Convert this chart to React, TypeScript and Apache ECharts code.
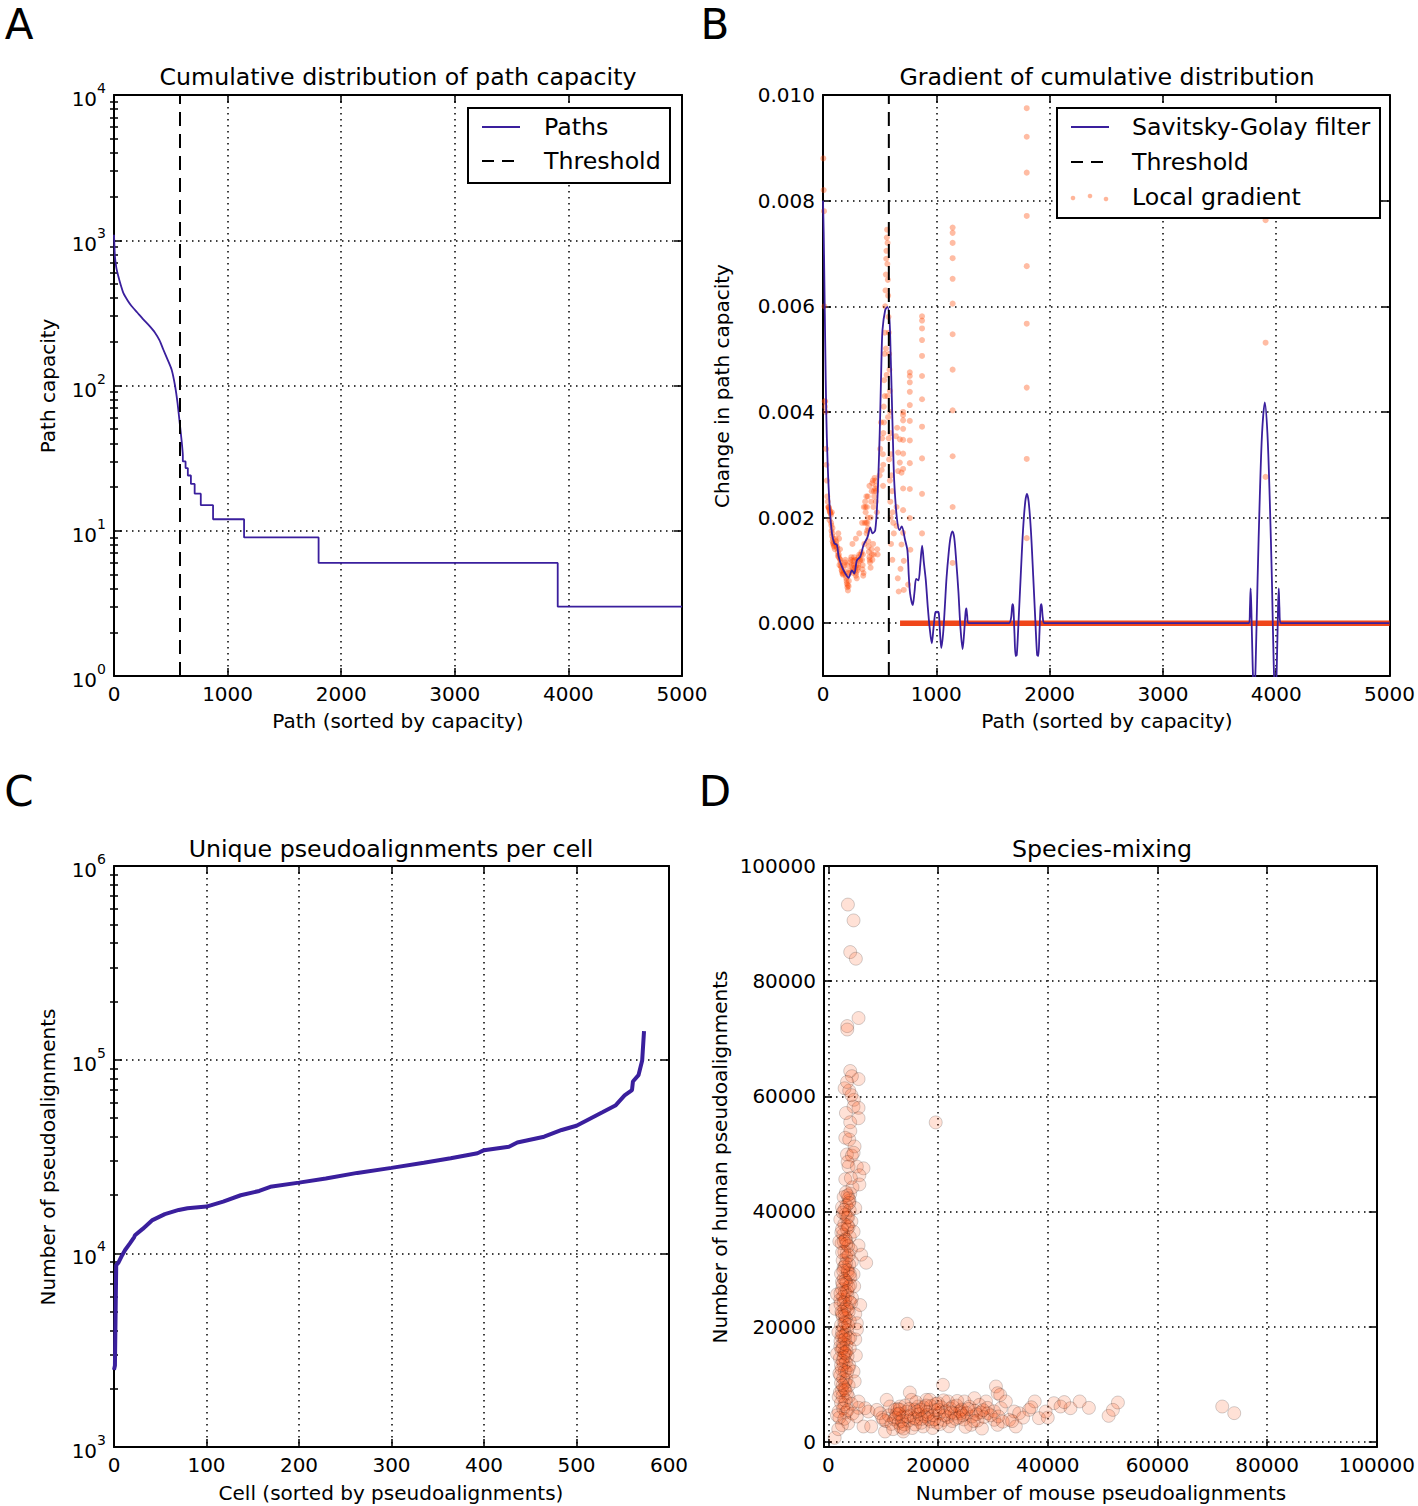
import React, { useEffect, useRef } from "react";
import * as echarts from "echarts";

const FONT = "DejaVu Sans";
const PURPLE = "#3a1f9d";
const THRESHOLD = 581;

// ---------- Panel A: cumulative distribution of path capacity ----------
const pathRank = [0, 4, 8, 20, 38, 60, 82, 120, 156, 205, 258, 310, 361, 400, 434, 470, 507, 537, 560, 581, 592, 600, 606, 606, 630, 630, 650, 650, 677, 677, 710, 710, 764, 764, 872, 872, 1145, 1145, 1801, 1801, 3906, 3906, 5000];
const pathCapacity = [1090, 900, 776, 650, 565, 490, 434, 385, 351, 318, 285, 258, 231, 205, 177, 152, 129, 100, 75, 53, 44, 38, 33, 30, 30, 27, 27, 24, 24, 21, 21, 18, 18, 15, 15, 12, 12, 9, 9, 6, 6, 3, 3];
const pathXTicks = [0, 1000, 2000, 3000, 4000, 5000];
const pathYTicks = [1, 10, 100, 1000, 10000];

// ---------- Panel B: gradient of cumulative distribution ----------
const sgRank = [0, 6, 12, 20, 29, 41, 59, 79, 100, 123, 138, 167, 197, 226, 255, 276, 299, 329, 358, 393, 417, 437, 461, 481, 495, 505, 515, 525, 549, 569, 587, 597, 607, 618, 628, 651, 675, 695, 725, 745, 757, 769, 792, 808, 822, 842, 858, 875, 890, 907, 925, 942, 960, 975, 990, 1000, 1006, 1012, 1022, 1032, 1044, 1060, 1075, 1090, 1110, 1125, 1142, 1158, 1175, 1195, 1212, 1232, 1245, 1258, 1265, 1272, 1285, 1640, 1660, 1672, 1680, 1690, 1700, 1710, 1725, 1745, 1765, 1785, 1800, 1815, 1835, 1855, 1875, 1890, 1900, 1910, 1920, 1928, 1940, 1955, 3760, 3768, 3774, 3780, 3792, 3805, 3818, 3835, 3855, 3875, 3899, 3922, 3942, 3962, 3978, 3992, 4005, 4016, 4022, 4028, 4038, 5000];
const sgValue = [0.008, 0.0074, 0.0065, 0.00523, 0.00397, 0.00302, 0.0022, 0.0017, 0.00151, 0.00148, 0.00126, 0.00107, 0.00094, 0.00086, 0.001, 0.00094, 0.00119, 0.00126, 0.00148, 0.00163, 0.00181, 0.0017, 0.00176, 0.00239, 0.0032, 0.00397, 0.0049, 0.00555, 0.00593, 0.00599, 0.00574, 0.0051, 0.00429, 0.0034, 0.00271, 0.00201, 0.00176, 0.00183, 0.00157, 0.00138, 0.0009, 0.00056, 0.00034, 0.0006, 0.00084, 0.00081, 0.0011, 0.00147, 0.00115, 0.00082, 0.0003, -0.0001, -0.00038, -0.0001, 0.00019, 0.00022, 0.0002, 0.00022, 0.00019, -0.00015, -0.00047, -0.0002, 0.0003, 0.00085, 0.00135, 0.00162, 0.00174, 0.00162, 0.0012, 0.0006, -0.00005, -0.00049, -0.0002, 0.0002, 0.00028, 0.00015, 0, 0, 0.0001, 0.00036, 0.0003, -0.0002, -0.00062, -0.0006, 0, 0.0009, 0.00175, 0.0023, 0.00245, 0.0023, 0.00175, 0.0009, 0, -0.0006, -0.00062, -0.0002, 0.0003, 0.00036, 0.0001, 0, 0, 0.0003, 0.00066, 0.0003, -0.0008, -0.0015, -0.0008, 0.0008, 0.0024, 0.0036, 0.00418, 0.0036, 0.0024, 0.0008, -0.0008, -0.0015, -0.0008, 0.0003, 0.00066, 0.0003, 0, 0];
const zeroGradientRange = [680, 5000];
const localGradient = [
  [3, 0.0088], [6, 0.0082], [9, 0.0078], [12, 0.006], [14, 0.0042], [17, 0.0041], [20, 0.0042], [23, 0.004], [27, 0.0033], [30, 0.003], [34, 0.0027], [38, 0.0024], [42, 0.0023], [46, 0.0022],
  [50, 0.0022], [55, 0.00215], [62, 0.0021], [70, 0.00205], [58, 0.00195], [75, 0.00175], [80, 0.00165], [85, 0.00155], [90, 0.0015], [96, 0.00145], [105, 0.0014], [110, 0.0016], [118, 0.0015], [125, 0.00142], [130, 0.00135], [140, 0.0013], [148, 0.00122], [155, 0.00115], [162, 0.00105], [168, 0.00098], [175, 0.00092], [182, 0.00095], [190, 0.0011], [198, 0.0012], [205, 0.00085], [210, 0.00075], [215, 0.00068], [220, 0.00062], [228, 0.0008], [235, 0.001], [242, 0.00115], [250, 0.00125], [258, 0.00105], [265, 0.00095], [272, 0.0011], [280, 0.0012], [290, 0.0009], [298, 0.00085], [305, 0.001], [312, 0.0011], [320, 0.0013], [330, 0.0012], [340, 0.00135], [350, 0.0011], [358, 0.00095], [365, 0.0015], [372, 0.0023], [376, 0.0021], [380, 0.0019], [385, 0.0017], [390, 0.00175], [395, 0.002], [400, 0.00155], [405, 0.00135], [410, 0.00125], [415, 0.00115], [420, 0.00105], [425, 0.0023], [430, 0.0025], [435, 0.00265], [440, 0.0027], [445, 0.0022], [450, 0.0025], [455, 0.00275], [460, 0.00255], [465, 0.0023], [470, 0.0026], [475, 0.0021], [478, 0.0014], [482, 0.0013],
  [260, 0.0015], [290, 0.0016], [320, 0.0017], [345, 0.0019], [360, 0.0022], [395, 0.0024], [410, 0.0026], [420, 0.002],
  [72, 0.0019], [78, 0.0021], [84, 0.0018], [88, 0.0016], [135, 0.0017], [142, 0.0016], [150, 0.0014], [145, 0.0011], [200, 0.0009], [212, 0.0011], [222, 0.00095], [226, 0.0007], [275, 0.00125], [285, 0.001], [295, 0.0011], [300, 0.0012], [345, 0.0012], [352, 0.0013], [355, 0.0009], [383, 0.0024], [388, 0.0022], [398, 0.0018], [428, 0.0014], [436, 0.0012], [442, 0.0015], [448, 0.0013],
  [52, 0.00218], [60, 0.00212], [66, 0.00208], [74, 0.00185], [82, 0.0017], [92, 0.00152], [100, 0.00147], [115, 0.00155], [122, 0.00145], [132, 0.00128], [138, 0.00125], [152, 0.0012], [158, 0.00108], [165, 0.001], [172, 0.00094], [186, 0.001], [194, 0.00115], [208, 0.0008], [218, 0.00072], [232, 0.00095], [246, 0.0012], [254, 0.0011], [262, 0.001], [268, 0.00118], [282, 0.00105], [292, 0.00095], [308, 0.00105], [316, 0.00125], [325, 0.00118], [335, 0.0013], [348, 0.00102], [368, 0.0019], [374, 0.0022], [392, 0.0019], [402, 0.00145], [412, 0.0012], [432, 0.0013], [452, 0.0024], [462, 0.0027], [468, 0.0025],
  [500, 0.0028], [505, 0.0033], [512, 0.0038], [518, 0.0029], [522, 0.0035],
  [528, 0.0032], [530, 0.0026], [533, 0.0036], [536, 0.0041], [540, 0.0046], [543, 0.0051], [546, 0.0055], [549, 0.006], [552, 0.0063], [555, 0.0066], [558, 0.0069], [560, 0.00705], [563, 0.0073], [566, 0.00745], [570, 0.0072], [568, 0.0068], [572, 0.0065], [575, 0.0062], [578, 0.0058], [581, 0.0055], [584, 0.0051], [587, 0.0048], [590, 0.0044], [593, 0.004], [596, 0.0036], [600, 0.0032], [604, 0.0028], [610, 0.0025], [615, 0.0021], [620, 0.0019], [625, 0.0017], [556, 0.0052], [562, 0.0047], [568, 0.0043], [574, 0.0039], [580, 0.0035], [584, 0.0031], [590, 0.0027], [594, 0.0023], [598, 0.002], [545, 0.0043], [538, 0.0038], [532, 0.003], [600, 0.0015], [612, 0.0012],
  [643, 0.00354], [654, 0.0037], [663, 0.00323], [663, 0.00288], [678, 0.00348], [678, 0.00304], [693, 0.00285], [649, 0.0022], [649, 0.00184], [693, 0.00149], [713, 0.00118], [684, 0.00103], [713, 0.00063], [751, 0.00073], [771, 0.00139], [707, 0.00171], [660, 0.00085], [668, 0.0006],
  [707, 0.004], [707, 0.00394], [707, 0.00384], [707, 0.00368], [707, 0.00347], [707, 0.00321], [707, 0.00292], [707, 0.00255], [707, 0.00214],
  [766, 0.00475], [766, 0.00468], [766, 0.00456], [766, 0.00438], [766, 0.00413], [766, 0.00383], [766, 0.00346], [766, 0.00303], [766, 0.00254], [766, 0.00199],
  [874, 0.00581], [874, 0.00573], [874, 0.00558], [874, 0.00536], [874, 0.00506], [874, 0.00468], [874, 0.00424], [874, 0.00372], [874, 0.00312], [874, 0.00245], [874, 0.0017],
  [1144, 0.00749], [1144, 0.00739], [1144, 0.0072], [1144, 0.00691], [1144, 0.00652], [1144, 0.00605], [1144, 0.00547], [1144, 0.0048], [1144, 0.00403], [1144, 0.00316], [1144, 0.0022], [1144, 0.00114],
  [1798, 0.00975], [1798, 0.00921], [1798, 0.00853], [1798, 0.00771], [1798, 0.00676], [1798, 0.00567], [1798, 0.00446], [1798, 0.00311], [1798, 0.00161],
  [3906, 0.00763], [3906, 0.00531], [3906, 0.00277],
];
const gradXTicks = [0, 1000, 2000, 3000, 4000, 5000];
const gradYTicks = [0, 0.002, 0.004, 0.006, 0.008, 0.01];

// ---------- Panel C: unique pseudoalignments per cell ----------
const cellRank = [0, 1, 2.4, 4.8, 8.2, 12, 17, 21.7, 22.7, 31, 41, 55, 70, 79.5, 100, 118, 137, 157, 169, 200, 229, 263, 300, 335, 364, 393, 400, 427, 436, 465, 484, 500, 513, 528, 542, 552, 560, 561, 567, 571, 573];
const cellPseudo = [2500, 2630, 8700, 8960, 9660, 10400, 11220, 12100, 12400, 13370, 14790, 15930, 16750, 17100, 17430, 18500, 19950, 20990, 22050, 23180, 24370, 26020, 27620, 29330, 30980, 32890, 34100, 35480, 37320, 40010, 43350, 45600, 49130, 53500, 57950, 65340, 69630, 77100, 83200, 99000, 140600];
const cellXTicks = [0, 100, 200, 300, 400, 500, 600];
const cellYTicks = [1000, 10000, 100000, 1000000];

// ---------- Panel D: species-mixing ----------
const humanCells = [
  [3560, 93300], [4590, 90550], [3980, 85050], [5010, 83900], [5500, 73600], [3440, 72200], [3440, 71600], [3980, 64400], [4290, 63500], [5500, 63000], [2960, 61400], [3800, 61000], [4650, 59400], [4590, 58200], [5500, 58000], [3980, 55500], [5500, 56200], [3080, 52800], [3800, 52500], [4770, 51300], [3380, 49900], [4290, 49700], [3680, 47800], [5190, 47800], [6400, 47500], [3080, 45600], [5650, 46300], [5650, 44700], [3980, 43100], [3860, 41900], [2780, 42500], [4900, 40600], [2480, 40750], [2170, 38600], [3380, 38900], [3680, 37300], [2360, 36350], [3200, 35100], [1990, 34800], [5500, 34100], [5980, 32500], [3380, 32850], [4290, 31300], [6890, 31100], [2780, 30300], [3560, 29400], [4590, 29100], [2480, 27800], [3980, 27200], [1570, 25600], [3080, 24700], [2170, 24700], [4170, 24100], [5800, 23750], [1270, 23100], [2480, 22200], [4900, 22200], [3080, 20600], [5190, 20600], [1810, 19050], [2720, 18400], [3980, 18100], [4900, 17800], [2170, 16550], [3080, 15300], [1570, 15300], [5010, 15000], [2780, 13400], [3680, 12800], [2170, 11500], [4590, 12200], [3080, 10300], [2480, 9000], [1870, 7800], [3680, 7800], [2960, 6500], [1870, 5300], [3200, 5100], [5500, 5900], [2480, 2900], [1150, 700], [1570, 4600],
  [3500, 42800], [3700, 42300], [3300, 41000], [3900, 40200], [2600, 39800], [3100, 39500], [3600, 39000], [4200, 38300], [2900, 37800], [3400, 36900], [2700, 36000], [3900, 35600], [3100, 35200], [2400, 34500], [3600, 34000], [4100, 33400], [2900, 33000], [3300, 32000], [2600, 31500], [3800, 30800], [3000, 30500], [3500, 29800], [2300, 29200], [4000, 28600], [2800, 28300], [3300, 27600], [3700, 26900], [2500, 26500], [3000, 26000], [3500, 25400], [2700, 25200], [4300, 25000], [2200, 23900], [3300, 23500], [2900, 23000], [3700, 22600], [2600, 21800], [3200, 21500], [3900, 21000], [2300, 20300], [2800, 19800], [3400, 19400], [2500, 19000], [3100, 18600], [3700, 17900], [2200, 17500], [2700, 17100], [3300, 16800], [3900, 16300], [2400, 15900], [2900, 15500], [3500, 14900], [2100, 14500], [2600, 14100], [3200, 13800], [3800, 13300], [2400, 12600], [3000, 12300], [2000, 11900], [2700, 11000], [3300, 10800], [2300, 10200], [3700, 9800], [2900, 9300], [2100, 8600], [3400, 8400], [2600, 7900], [3100, 7200], [2300, 6800], [4200, 6600], [2700, 5800], [3500, 5500], [2000, 4200], [2900, 4000], [4400, 4900], [3600, 3200], [1800, 2200], [4800, 10500], [5200, 19500], [4700, 27000], [4600, 36500], [4400, 44200], [4100, 45800], [3500, 48600], [4600, 50200], [4000, 54000], [3200, 57100], [4200, 60200], [3400, 62500],
  [3200, 43300], [3800, 41500], [2900, 40300], [3500, 37600], [2500, 37000], [3300, 34400], [2800, 34800], [3700, 32400], [2500, 32900], [3200, 31000], [3900, 29200], [2700, 29700], [3100, 28000], [2600, 27300], [3400, 26200], [2200, 25800], [3900, 24300], [2800, 24200], [3500, 23000], [2400, 22600], [3000, 21900], [2900, 20700], [3600, 20300], [2400, 18300], [3000, 17800], [2600, 16300], [3300, 15700], [2800, 14700], [2300, 13300], [3400, 12100], [2600, 9800], [3100, 9000],
];
const mouseCells = [
  [5500, 7000], [5190, 4400], [6400, 2660], [6700, 5840], [7310, 5260], [7800, 2660], [8820, 5550], [9420, 4970], [10630, 7290], [10330, 1790], [10030, 3820], [11230, 6130], [12140, 5550], [13050, 6130], [13650, 1790], [14850, 8560], [15150, 7290], [16360, 6130], [17270, 2660], [17870, 7290], [18770, 3530], [19980, 6710], [20880, 9900], [21790, 7010], [22690, 6130], [24200, 4970], [24810, 7010], [26020, 2950], [26630, 7580], [27530, 6420], [28740, 7010], [29040, 4970], [30250, 3820], [30550, 9610], [30850, 8440], [31330, 8150], [31460, 5840], [32360, 7010], [30850, 2950], [32970, 3820], [33880, 5260], [34180, 2660], [34780, 4970], [36590, 5550], [37630, 7010], [38400, 4110], [39620, 5260], [41120, 6710], [42330, 6130], [44140, 5840], [45820, 7010], [51100, 4510], [51880, 5550], [52790, 6820], [71810, 6130], [74000, 4980],
  [9800, 4200], [10500, 3600], [11000, 4600], [11500, 3100], [12000, 3900], [12400, 4800], [12800, 3300], [13200, 2600], [13500, 4300], [13900, 3000], [14200, 5200], [14600, 3700], [15000, 4600], [15300, 2400], [15700, 5600], [16100, 3900], [16500, 4800], [16900, 3300], [17300, 6000], [17600, 4400], [18000, 5200], [18300, 3900], [18700, 6200], [19100, 4600], [19500, 5500], [19800, 3300], [20200, 4900], [20600, 6000], [21000, 3800], [21400, 5300], [21800, 4300], [22200, 5800], [22600, 3600], [23000, 4900], [23400, 6300], [23800, 4200], [24300, 5600], [24700, 3900], [25200, 5000], [25700, 6100], [26200, 4400], [26700, 5400], [27200, 3700], [27800, 5100], [28400, 4300], [29000, 5900], [29600, 4600], [30200, 5300], [31000, 4400], [31800, 3500], [12600, 5700], [14000, 6300], [16000, 6900], [18500, 7300], [21000, 7200], [23500, 7100], [11800, 2200], [13000, 5600], [15800, 3000], [19000, 2400], [22000, 2700], [25000, 2600], [28000, 2300], [33500, 3600], [35500, 4200], [37000, 6000], [40000, 4200], [43000, 6900], [47500, 5900], [15600, 4100], [16800, 5600], [20400, 3100], [24000, 5300], [27000, 4800],
  [12300, 4200], [13400, 3600], [13700, 2300], [14400, 4400], [16300, 5300], [17000, 4000], [18100, 4700], [19300, 3900], [20000, 5600], [21200, 4600], [22400, 5100], [23200, 4000], [24500, 4600], [25500, 5700], [26500, 3600], [28200, 5500], [19600, 6600], [17800, 6300], [14700, 5700], [12900, 4900],
];
const mixedCells = [[14370, 20500], [19570, 55470]];
const mixXTicks = [0, 20000, 40000, 60000, 80000, 100000];
const mixYTicks = [0, 20000, 40000, 60000, 80000, 100000];

// ---------- helpers ----------
function minorLogTicks(lo: number, hi: number) {
  const out: number[] = [];
  for (let p = lo; p < hi; p *= 10) for (let k = 2; k <= 9; k++) out.push(p * k);
  return out;
}
const supFmt = (v: number) => `{b|10}{s|${Math.round(Math.log10(v))}}`;
const supRich = {
  b: { fontFamily: FONT, fontSize: 20, color: "#000", lineHeight: 28, verticalAlign: "bottom" },
  s: { fontFamily: FONT, fontSize: 14, color: "#000", lineHeight: 16, verticalAlign: "top" },
};
const splitStyle = { show: true, lineStyle: { color: "#000", width: 1.5, type: [1.5, 4.5] } };
const lineAx = { show: true, onZero: false, lineStyle: { color: "#000", width: 2 } };

function axis(gridIndex: number, type: string, min: number, max: number, ticks: number[], opts: any) {
  const { position, labels, formatter, rich, tickLen = 8, split = false, line = true } = opts;
  return {
    type, gridIndex, min, max, position,
    ...(type === "log" ? { logBase: 10 } : {}),
    axisLine: line ? lineAx : { show: false },
    axisTick: { show: true, inside: true, length: tickLen, customValues: ticks, lineStyle: { color: "#000", width: 1.5 } },
    axisLabel: labels
      ? { show: true, customValues: ticks, color: "#000", fontFamily: FONT, fontSize: 20, margin: 8, formatter, rich }
      : { show: false },
    splitLine: split ? splitStyle : { show: false },
    minorTick: { show: false },
  };
}

const numFmt = (v: number) => String(v);

const grids = [
  { left: 114, top: 95, width: 568, height: 581 },
  { left: 823, top: 95, width: 568, height: 581 },
  { left: 114, top: 866, width: 555, height: 581 },
  { left: 824, top: 866, width: 556, height: 581 },
];

const xAxes = [
  axis(0, "value", 0, 5000, pathXTicks, { position: "bottom", labels: true, formatter: numFmt, split: true }),
  axis(0, "value", 0, 5000, pathXTicks, { position: "top" }),
  axis(1, "value", 0, 5000, gradXTicks, { position: "bottom", labels: true, formatter: numFmt, split: true }),
  axis(1, "value", 0, 5000, gradXTicks, { position: "top" }),
  axis(2, "value", 0, 600, cellXTicks, { position: "bottom", labels: true, formatter: numFmt, split: true }),
  axis(2, "value", 0, 600, cellXTicks, { position: "top" }),
  axis(3, "value", -800, 100000, mixXTicks, { position: "bottom", labels: true, formatter: numFmt, split: true }),
  axis(3, "value", -800, 100000, mixXTicks, { position: "top" }),
];
const yAxes = [
  axis(0, "log", 1, 10000, pathYTicks, { position: "left", labels: true, formatter: supFmt, rich: supRich, split: true }),
  axis(0, "log", 1, 10000, pathYTicks, { position: "right" }),
  axis(0, "log", 1, 10000, minorLogTicks(1, 10000), { position: "left", tickLen: 4, line: false }),
  axis(0, "log", 1, 10000, minorLogTicks(1, 10000), { position: "right", tickLen: 4, line: false }),
  axis(1, "value", -0.001, 0.01, gradYTicks, { position: "left", labels: true, formatter: (v: number) => v.toFixed(3), split: true }),
  axis(1, "value", -0.001, 0.01, gradYTicks, { position: "right" }),
  axis(2, "log", 1000, 1000000, cellYTicks, { position: "left", labels: true, formatter: supFmt, rich: supRich, split: true }),
  axis(2, "log", 1000, 1000000, cellYTicks, { position: "right" }),
  axis(2, "log", 1000, 1000000, minorLogTicks(1000, 1000000), { position: "left", tickLen: 4, line: false }),
  axis(2, "log", 1000, 1000000, minorLogTicks(1000, 1000000), { position: "right", tickLen: 4, line: false }),
  axis(3, "value", -900, 100000, mixYTicks, { position: "left", labels: true, formatter: numFmt, split: true }),
  axis(3, "value", -900, 100000, mixYTicks, { position: "right" }),
];

const series: any[] = [
  {
    type: "line", name: "Paths", xAxisIndex: 0, yAxisIndex: 0, symbol: "none", silent: true,
    data: pathRank.map((x, i) => [x, pathCapacity[i]]), smooth: 0.2,
    lineStyle: { color: PURPLE, width: 1.8 }, z: 3,
  },
  {
    type: "line", name: "Threshold", xAxisIndex: 0, yAxisIndex: 0, symbol: "none", silent: true,
    data: [[THRESHOLD, 1], [THRESHOLD, 10000]],
    lineStyle: { color: "#000", width: 2, type: [14, 8] }, z: 4,
  },
  {
    type: "line", name: "zero gradient", xAxisIndex: 2, yAxisIndex: 4, symbol: "none", silent: true,
    data: zeroGradientRange.map((x) => [x, 0]),
    lineStyle: { color: "#f0461a", width: 5.5 }, z: 2,
  },
  {
    type: "scatter", name: "Local gradient", xAxisIndex: 2, yAxisIndex: 4, silent: true,
    data: localGradient, symbol: "circle", symbolSize: 6,
    itemStyle: { color: "rgba(255,69,0,0.45)" }, z: 2,
  },
  {
    type: "line", name: "Savitsky-Golay filter", xAxisIndex: 2, yAxisIndex: 4, symbol: "none", silent: true,
    data: sgRank.map((x, i) => [x, sgValue[i]]), smooth: 0.3,
    lineStyle: { color: PURPLE, width: 1.8 }, z: 3,
  },
  {
    type: "line", name: "Threshold", xAxisIndex: 2, yAxisIndex: 4, symbol: "none", silent: true,
    data: [[THRESHOLD, -0.001], [THRESHOLD, 0.01]],
    lineStyle: { color: "#000", width: 2, type: [14, 8] }, z: 4,
  },
  {
    type: "line", name: "Cells", xAxisIndex: 4, yAxisIndex: 6, symbol: "none", silent: true,
    data: cellRank.map((x, i) => [x, cellPseudo[i]]),
    lineStyle: { color: PURPLE, width: 4 }, z: 3,
  },
  {
    type: "scatter", name: "Cells mix", xAxisIndex: 6, yAxisIndex: 10, silent: true,
    data: [...humanCells, ...mouseCells, ...mixedCells], symbol: "circle", symbolSize: 13,
    itemStyle: { color: "rgba(255,69,0,0.2)", borderColor: "rgba(0,0,0,0.22)", borderWidth: 1 }, z: 3,
  },
];

const txt = (text: string, x: number, y: number, size: number, extra: any = {}) => ({
  type: "text", x, y, silent: true, ...extra,
  style: { text, fontFamily: FONT, fontSize: size, fill: "#000", align: "center", verticalAlign: "middle", ...(extra.style || {}) },
});
const vtxt = (text: string, x: number, y: number, size: number) => ({
  type: "text", x, y, rotation: Math.PI / 2, silent: true,
  style: { text, fontFamily: FONT, fontSize: size, fill: "#000", align: "center", verticalAlign: "middle" },
});

const LEG = 23.7;
const graphics: any[] = [
  txt("A", 19, 3, 42, { style: { verticalAlign: "top" } }),
  txt("B", 715, 3, 42, { style: { verticalAlign: "top" } }),
  txt("C", 19, 770, 42, { style: { verticalAlign: "top" } }),
  txt("D", 715, 770, 42, { style: { verticalAlign: "top" } }),
  txt("Cumulative distribution of path capacity", 398, 77, 23.7),
  txt("Gradient of cumulative distribution", 1107, 77, 23.7),
  txt("Unique pseudoalignments per cell", 391, 849, 23.7),
  txt("Species-mixing", 1102, 849, 23.7),
  txt("Path (sorted by capacity)", 398, 721, 20),
  txt("Path (sorted by capacity)", 1107, 721, 20),
  txt("Cell (sorted by pseudoalignments)", 391, 1493, 20),
  txt("Number of mouse pseudoalignments", 1101, 1493, 20),
  vtxt("Path capacity", 48, 386, 20),
  vtxt("Change in path capacity", 722, 386, 20),
  vtxt("Number of pseudoalignments", 48, 1157, 20),
  vtxt("Number of human pseudoalignments", 720, 1157, 20),
  // legend A
  { type: "rect", shape: { x: 468, y: 108, width: 202, height: 75 }, style: { fill: "#fff", stroke: "#000", lineWidth: 2 }, z: 10, silent: true },
  { type: "line", shape: { x1: 482, y1: 127, x2: 520, y2: 127 }, style: { stroke: PURPLE, lineWidth: 1.8 }, z: 11, silent: true },
  { type: "line", shape: { x1: 482, y1: 161, x2: 520, y2: 161 }, style: { stroke: "#000", lineWidth: 2, lineDash: [12, 8] }, z: 11, silent: true },
  txt("Paths", 544, 127, LEG, { z: 11, style: { align: "left" } }),
  txt("Threshold", 544, 161, LEG, { z: 11, style: { align: "left" } }),
  // legend B
  { type: "rect", shape: { x: 1057, y: 108, width: 323, height: 110 }, style: { fill: "#fff", stroke: "#000", lineWidth: 2 }, z: 10, silent: true },
  { type: "line", shape: { x1: 1071, y1: 127, x2: 1109, y2: 127 }, style: { stroke: PURPLE, lineWidth: 1.8 }, z: 11, silent: true },
  { type: "line", shape: { x1: 1071, y1: 162, x2: 1109, y2: 162 }, style: { stroke: "#000", lineWidth: 2, lineDash: [12, 8] }, z: 11, silent: true },
  { type: "circle", shape: { cx: 1073, cy: 198, r: 2.3 }, style: { fill: "rgba(255,69,0,0.4)" }, z: 11, silent: true },
  { type: "circle", shape: { cx: 1090, cy: 196, r: 2.3 }, style: { fill: "rgba(255,69,0,0.4)" }, z: 11, silent: true },
  { type: "circle", shape: { cx: 1106, cy: 199, r: 2.3 }, style: { fill: "rgba(255,69,0,0.4)" }, z: 11, silent: true },
  txt("Savitsky-Golay filter", 1132, 127, LEG, { z: 11, style: { align: "left" } }),
  txt("Threshold", 1132, 162, LEG, { z: 11, style: { align: "left" } }),
  txt("Local gradient", 1132, 197, LEG, { z: 11, style: { align: "left" } }),
];

const option: any = {
  animation: false,
  backgroundColor: "#fff",
  textStyle: { fontFamily: FONT },
  grid: grids,
  xAxis: xAxes,
  yAxis: yAxes,
  series,
  graphic: graphics,
};

export default function App() {
  const ref = useRef<HTMLDivElement>(null);
  useEffect(() => {
    document.body.style.margin = "0";
    const chart = echarts.init(ref.current!, null, { renderer: "svg" });
    chart.setOption(option);
    return () => chart.dispose();
  }, []);
  return <div ref={ref} style={{ width: 1418, height: 1506 }} />;
}
